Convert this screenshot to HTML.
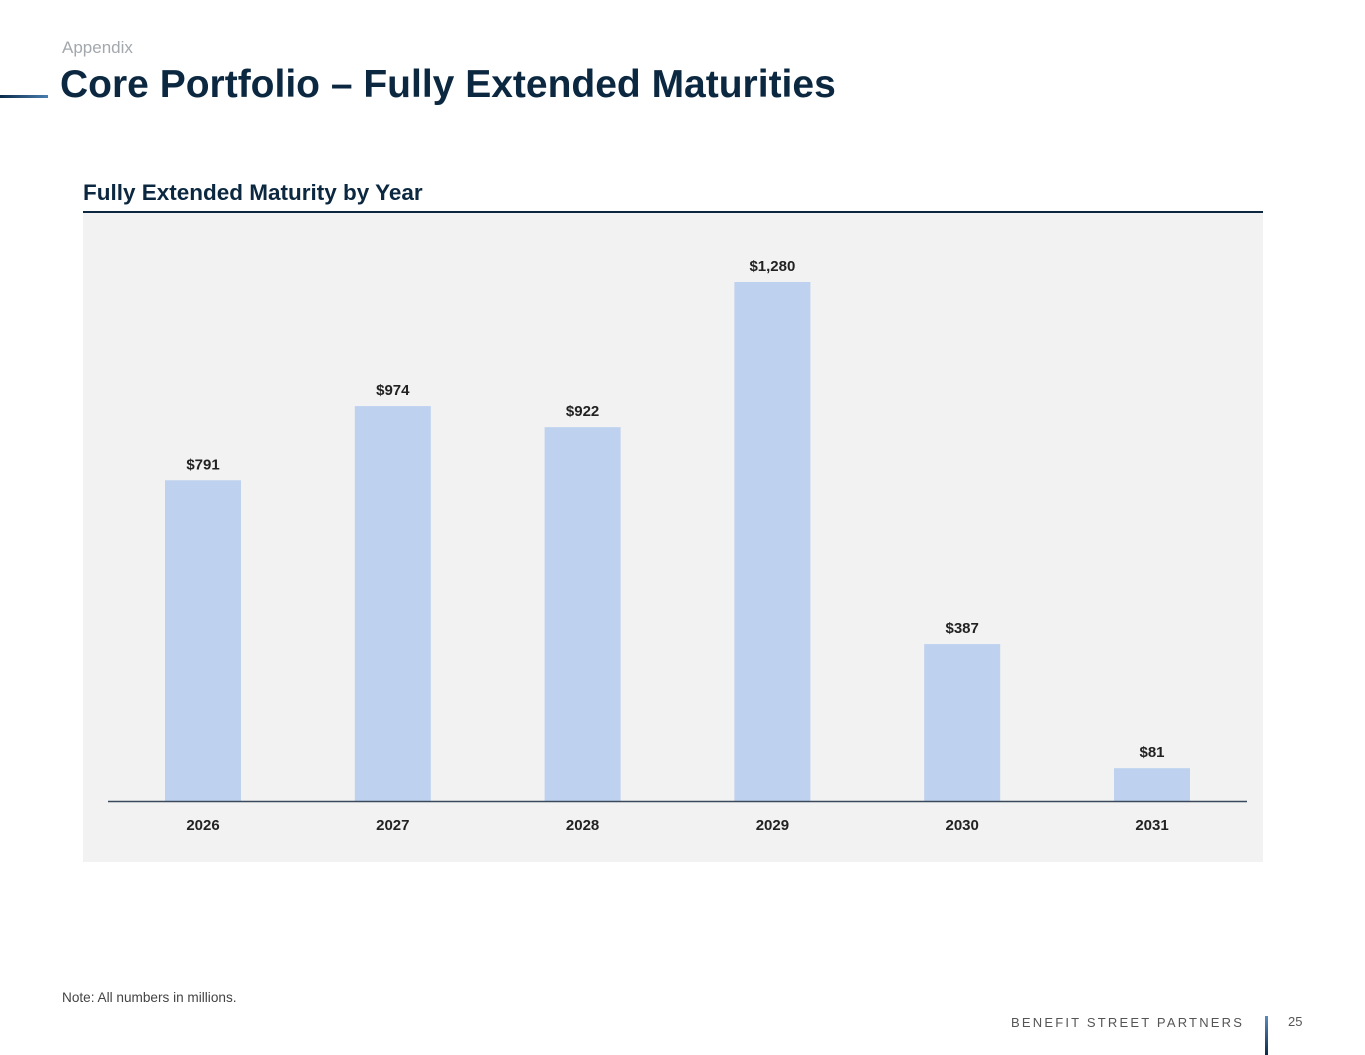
<!DOCTYPE html>
<html><head><meta charset="utf-8"><style>
body{margin:0;width:1365px;height:1055px;background:#fff;position:relative;overflow:hidden;font-family:"Liberation Sans",sans-serif}
.a{position:absolute}
</style></head><body>
<div class="a" style="left:62px;top:38px;font-size:17px;color:#a3a8ad">Appendix</div>
<div class="a" style="left:0;top:95px;width:48px;height:3px;background:linear-gradient(90deg,#0a2a4a,#4a7fb0)"></div>
<div class="a" style="left:60px;top:63px;font-size:39px;font-weight:bold;color:#0b2840">Core Portfolio – Fully Extended Maturities</div>
<div class="a" style="left:83px;top:180px;font-size:22.5px;font-weight:bold;color:#0b2840">Fully Extended Maturity by Year</div>
<div class="a" style="left:83px;top:211px;width:1180px;height:2px;background:#0b2840"></div>
<div class="a" style="left:83px;top:213px;width:1180px;height:649px;background:#f1f2f1"></div>
<svg class="a" style="left:0;top:0" width="1365" height="1055" id="chart"></svg>
<div class="a" style="left:62px;top:990px;font-size:13.6px;color:#444">Note: All numbers in millions.</div>
<div class="a" style="left:1011px;top:1015px;font-size:13px;letter-spacing:2.2px;color:#555">BENEFIT STREET PARTNERS</div>
<div class="a" style="left:1265px;top:1016px;width:3px;height:39px;background:linear-gradient(#5a8cc0,#0a2a4a)"></div>
<div class="a" style="left:1288px;top:1014px;font-size:13px;color:#555">25</div>
<script>
const categories=["2026","2027","2028","2029","2030","2031"];
const values=[791,974,922,1280,387,81];
const labels=["$791","$974","$922","$1,280","$387","$81"];
const svg=document.getElementById('chart');
const NS='http://www.w3.org/2000/svg';
const base=801,scale=519/1280,x0=203,step=189.8,bw=76;
const y=v=>base-v*scale, x=i=>x0+i*step;
function mk(t,a){const e=document.createElementNS(NS,t);for(const k in a)e.setAttribute(k,a[k]);svg.appendChild(e);return e;}
values.forEach((v,i)=>{
 const r=mk('rect',{x:x(i)-bw/2,y:y(v),width:bw,height:base-y(v),fill:'#bed2f0'});
 
 
 const t=mk('text',{x:x(i),y:y(v)-11,'text-anchor':'middle','font-size':'15','font-weight':'bold',fill:'#222','font-family':'Liberation Sans'});
 t.textContent=labels[i];
 
 
 const c=mk('text',{x:x(i),y:830,'text-anchor':'middle','font-size':'15','font-weight':'bold',fill:'#222','font-family':'Liberation Sans'});
 c.textContent=categories[i];
 
 
});
const ax=mk('line',{x1:108,x2:1247,y1:801.5,y2:801.5,stroke:'#3a4a5c','stroke-width':1.5});


</script>
</body></html>
